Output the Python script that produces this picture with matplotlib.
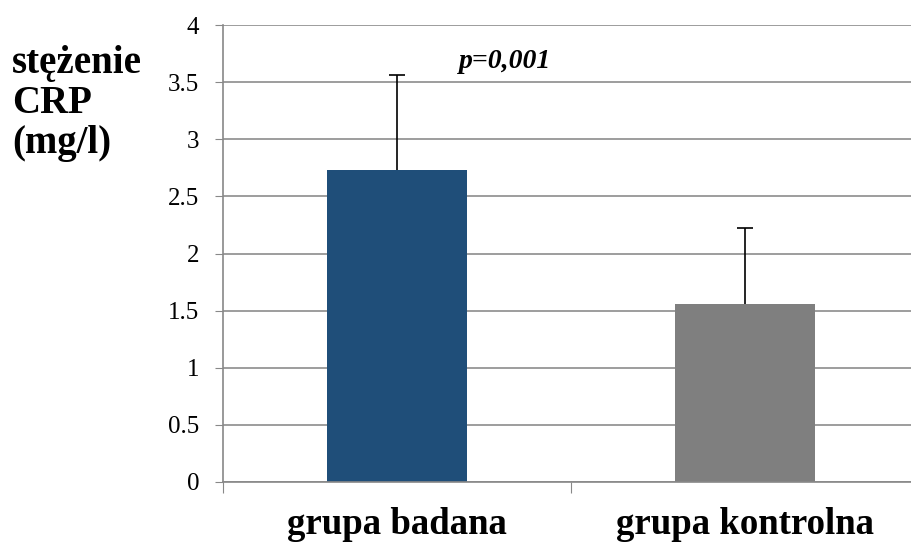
import matplotlib.pyplot as plt
import numpy as np

plt.rcParams['font.family'] = ['Liberation Serif', 'DejaVu Serif']

groups = ['grupa badana', 'grupa kontrolna']
means = [2.73, 1.56]
errs_up = [0.83, 0.66]
colors = ['#1f4e79', '#7f7f7f']
ylabel_lines = ['stężenie', 'CRP', '(mg/l)']

fig = plt.figure(figsize=(9.11, 5.47), dpi=100)
ax = fig.add_axes([223 / 911, 65 / 547, 696 / 911, 457 / 547])

x = np.arange(len(groups))
ax.bar(x, means, width=0.4, color=colors, zorder=2)
eb = ax.errorbar(x, means, yerr=[np.zeros(len(means)), errs_up], fmt='none',
                 ecolor='black', elinewidth=1.2, capsize=6, capthick=1.2, zorder=3)
# only the upper cap is shown
eb[1][0].remove()

ax.set_xlim(-0.5, 1.5)
ax.set_ylim(0, 4)
ax.set_yticks(np.arange(0, 4.01, 0.5))
ax.set_yticklabels(['0', '0.5', '1', '1.5', '2', '2.5', '3', '3.5', '4'], fontsize=18)
ax.set_xticks([-0.5, 0.5, 1.5])
ax.set_xticklabels([])
ax.set_xticks(x, minor=True)
ax.set_xticklabels(groups, minor=True, fontsize=26.5, fontweight='bold')
ax.tick_params(axis='x', which='minor', length=0, pad=18)
ax.tick_params(axis='x', which='major', length=8, color='#888888')
ax.tick_params(axis='y', length=6, color='#888888', pad=11)

ax.grid(axis='y', color='#8c8c8c', linewidth=1.2, zorder=0)
for s in ['top', 'right']:
    ax.spines[s].set_visible(False)
ax.spines['left'].set_color('#888888')
ax.spines['bottom'].set_color('#888888')
ax.spines['left'].set_linewidth(1.2)
ax.spines['bottom'].set_linewidth(1.2)

ax.text(0.31, 3.68, 'p=0,001', fontsize=20, fontweight='bold', fontstyle='italic', ha='center', va='center')
for i, line in enumerate(ylabel_lines):
    fig.text(12 / 911, 1 - (73 + 40 * i) / 547, line, fontsize=28, fontweight='bold',
             ha='left', va='baseline')

fig.savefig('out.png', dpi=100)
